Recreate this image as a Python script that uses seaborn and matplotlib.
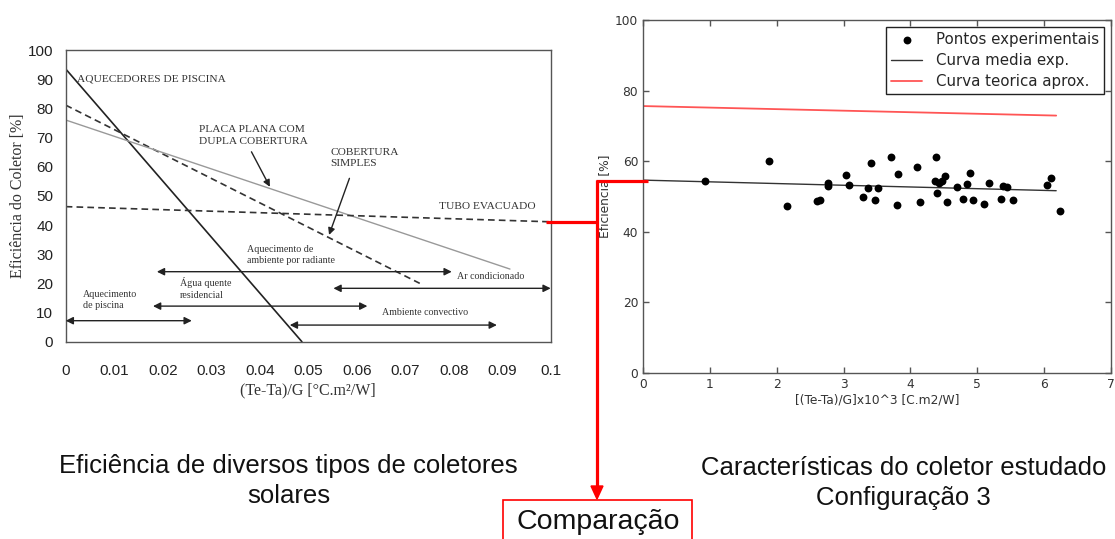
import numpy as np
import pandas as pd
import matplotlib
matplotlib.use("Agg")
import matplotlib.pyplot as plt
import seaborn as sns
from matplotlib.lines import Line2D
from matplotlib.patches import Rectangle

# ------------------------------------------------------------------
# dados - grafico da esquerda (eficiencia de diversos coletores)
# ------------------------------------------------------------------
piscina_x = [0.0, 0.0487]
piscina_y = [93.5, 0.0]
simples_x = [0.0, 0.073]
simples_y = [81.1, 20.0]
dupla_x = [0.0, 0.0916]
dupla_y = [76.0, 24.9]
tubo_x = [0.0, 0.1]
tubo_y = [46.3, 41.1]

faixa_ini = [0.0, 0.018, 0.0188, 0.0552, 0.0462]
faixa_fim = [0.026, 0.0622, 0.0796, 0.1, 0.0889]
faixa_nivel = [7.2, 12.2, 24.0, 18.3, 5.7]

esq_xticks = [0, 0.01, 0.02, 0.03, 0.04, 0.05, 0.06, 0.07, 0.08, 0.09, 0.1]
esq_xlabels = ["0", "0.01", "0.02", "0.03", "0.04", "0.05", "0.06", "0.07", "0.08", "0.09", "0.1"]
esq_yticks = [0, 10, 20, 30, 40, 50, 60, 70, 80, 90, 100]

# ------------------------------------------------------------------
# dados - grafico da direita (coletor estudado, configuracao 3)
# ------------------------------------------------------------------
exp_x = [0.93, 1.89, 2.16, 2.61, 2.65, 2.76, 2.77, 3.03, 3.08, 3.29,
         3.37, 3.41, 3.47, 3.52, 3.71, 3.81, 3.80, 4.10, 4.14, 4.38,
         4.37, 4.42, 4.47, 4.52, 4.39, 4.55, 4.69, 4.78, 4.84, 4.89,
         4.93, 5.10, 5.17, 5.36, 5.39, 5.44, 5.53, 6.05, 6.10, 6.23]
exp_y = [54.4, 60.1, 47.3, 48.8, 49.0, 53.7, 52.9, 56.1, 53.3, 49.9,
         52.5, 59.5, 48.9, 52.5, 61.1, 56.4, 47.5, 58.3, 48.3, 61.2,
         54.4, 53.7, 54.4, 55.8, 51.0, 48.5, 52.7, 49.2, 53.4, 56.7,
         49.0, 47.7, 53.9, 49.3, 52.9, 52.6, 49.0, 53.3, 55.2, 45.8]
media_x = [0.0, 6.18]
media_y = [54.6, 51.6]
teorica_x = [0.0, 6.18]
teorica_y = [75.6, 72.9]

W, H = 1115, 539


def px(x, y):
    """pixel (origem no topo) -> fracao da figura"""
    return x / W, 1 - y / H


sns.set_style("white")
plt.rcParams['font.family'] = ['Liberation Sans', 'DejaVu Sans']

fig = plt.figure(figsize=(W / 100, H / 100), dpi=100)

# ==================================================================
# I. grafico da esquerda
# ==================================================================
ax1 = fig.add_axes([65.7 / W, 1 - 341.7 / H, (550.7 - 65.7) / W, (341.7 - 50) / H])
traco = (0, (4, 2.5))
sns.lineplot(x=piscina_x, y=piscina_y, ax=ax1, color='#222222', lw=1.2)
sns.lineplot(x=simples_x, y=simples_y, ax=ax1, color='#333333', lw=1.2, linestyle=traco)
sns.lineplot(x=dupla_x, y=dupla_y, ax=ax1, color='#999999', lw=1.0)
sns.lineplot(x=tubo_x, y=tubo_y, ax=ax1, color='#333333', lw=1.2, linestyle=traco)

for x0, x1, yv in zip(faixa_ini, faixa_fim, faixa_nivel):
    ax1.annotate('', xy=(x1, yv), xytext=(x0, yv),
                 arrowprops=dict(arrowstyle='<|-|>', color='#222222', lw=1.0,
                                 mutation_scale=11, shrinkA=0, shrinkB=0))

# setas indicadoras
ax1.annotate('', xy=(0.0421, 53.1), xytext=(0.0383, 65.1),
             arrowprops=dict(arrowstyle='-|>', color='#222222', lw=1.0,
                             mutation_scale=10, shrinkA=0, shrinkB=0))
ax1.annotate('', xy=(0.0543, 36.6), xytext=(0.0585, 56.0),
             arrowprops=dict(arrowstyle='-|>', color='#222222', lw=1.0,
                             mutation_scale=10, shrinkA=0, shrinkB=0))

serif = ['Liberation Serif', 'DejaVu Serif']
cor_txt = '#333333'
fs_caps = 8.2
fs_min = 7.2
ax1.text(0.0023, 89.9, 'AQUECEDORES DE PISCINA', family=serif, fontsize=fs_caps,
         color=cor_txt, va='center', ha='left')
ax1.text(0.0275, 70.7, 'PLACA PLANA COM\nDUPLA COBERTURA', family=serif, fontsize=fs_caps,
         color=cor_txt, va='center', ha='left', linespacing=1.3)
ax1.text(0.0546, 63.1, 'COBERTURA\nSIMPLES', family=serif, fontsize=fs_caps,
         color=cor_txt, va='center', ha='left', linespacing=1.3)
ax1.text(0.077, 46.5, 'TUBO EVACUADO', family=serif, fontsize=fs_caps,
         color=cor_txt, va='center', ha='left')
ax1.text(0.0373, 29.7, 'Aquecimento de\nambiente por radiante', family=serif, fontsize=fs_min,
         color=cor_txt, va='center', ha='left', linespacing=1.35)
ax1.text(0.0236, 18.2, 'Água quente\nresidencial', family=serif, fontsize=fs_min,
         color=cor_txt, va='center', ha='left', linespacing=1.35)
ax1.text(0.0035, 14.3, 'Aquecimento\nde piscina', family=serif, fontsize=fs_min,
         color=cor_txt, va='center', ha='left', linespacing=1.35)
ax1.text(0.0807, 22.3, 'Ar condicionado', family=serif, fontsize=fs_min,
         color=cor_txt, va='center', ha='left')
ax1.text(0.0652, 9.9, 'Ambiente convectivo', family=serif, fontsize=fs_min,
         color=cor_txt, va='center', ha='left')

ax1.set_xlim(0, 0.1)
ax1.set_ylim(0, 100)
ax1.set_xticks(esq_xticks)
ax1.set_xticklabels(esq_xlabels)
ax1.set_yticks(esq_yticks)
ax1.tick_params(axis='both', direction='out', length=4, width=1, color='#555555',
                labelsize=11, labelcolor='#222222')
ax1.tick_params(axis='x', pad=12)
ax1.tick_params(axis='y', pad=5)
for s in ax1.spines.values():
    s.set_color('#555555')
    s.set_linewidth(1.0)
ax1.set_xlabel('(Te-Ta)/G [°C.m²/W]', family=serif, fontsize=11.5, color=cor_txt, labelpad=3)
ax1.set_ylabel('Eficiência do Coletor [%]', family=serif, fontsize=11.5, color=cor_txt, labelpad=1)

# ==================================================================
# II. grafico da direita
# ==================================================================
ax2 = fig.add_axes([643 / W, 1 - 372.7 / H, (1111 - 643) / W, (372.7 - 20) / H])
df_exp = pd.DataFrame({'x': exp_x, 'y': exp_y})
sns.scatterplot(data=df_exp, x='x', y='y', ax=ax2, color='black', s=32,
                linewidth=0, label='Pontos experimentais', zorder=3)
sns.lineplot(x=media_x, y=media_y, ax=ax2, color='#333333', lw=1.0, label='Curva media exp.')
sns.lineplot(x=teorica_x, y=teorica_y, ax=ax2, color='#ff5555', lw=1.3, label='Curva teorica aprox.')

ax2.set_xlim(0, 7)
ax2.set_ylim(0, 100)
ax2.set_xticks(range(0, 8))
ax2.set_yticks(range(0, 101, 20))
ax2.tick_params(axis='both', direction='in', length=4, width=1, color='#555555',
                labelsize=8.8, labelcolor='#333333', top=True, right=True, bottom=True, left=True)
for s in ax2.spines.values():
    s.set_color('#555555')
    s.set_linewidth(1.0)
dj = ['DejaVu Sans']
ax2.set_xlabel('[(Te-Ta)/G]x10^3 [C.m2/W]', family=dj, fontsize=8.8, color='#333333', labelpad=2)
ax2.set_ylabel('Eficiencia [%]', family=dj, fontsize=8.8, color='#333333', labelpad=3)
for lb in ax2.get_xticklabels() + ax2.get_yticklabels():
    lb.set_family(dj)
leg = ax2.legend(loc='upper right', fancybox=False, framealpha=1, edgecolor='#222222',
                 prop={'family': 'DejaVu Sans', 'size': 10.8}, handlelength=2.1,
                 borderaxespad=0.45, labelspacing=0.4, borderpad=0.35, handletextpad=0.9)
leg.get_frame().set_linewidth(1.0)

# ==================================================================
# III. ligacoes em vermelho e textos
# ==================================================================
vermelho = '#ff0000'
fig.add_artist(Line2D([px(546, 0)[0], px(598, 0)[0]], [px(0, 221.5)[1]] * 2,
                      color=vermelho, lw=2.3, solid_capstyle='butt'))
fig.add_artist(Line2D([px(596, 0)[0], px(648, 0)[0]], [px(0, 181)[1]] * 2,
                      color=vermelho, lw=2.3, solid_capstyle='butt'))
fig.add_artist(Line2D([px(597, 0)[0]] * 2, [px(0, 180)[1], px(0, 490)[1]],
                      color=vermelho, lw=2.3, solid_capstyle='butt'))
fig.patches.append(plt.Polygon([px(591, 486), px(603, 486), px(597, 499)], closed=True,
                               color=vermelho, transform=fig.transFigure, figure=fig))

x0, y0 = px(503, 545)
x1, y1 = px(692, 500)
fig.add_artist(Rectangle((x0, y0), x1 - x0, y1 - y0, transform=fig.transFigure,
                         fill=False, edgecolor=vermelho, lw=1.2))

fs = 18.5
fig.text(*px(288.5, 481), 'Eficiência de diversos tipos de coletores\nsolares',
         ha='center', va='center', fontsize=fs, color='#111111', linespacing=1.35)
fig.text(*px(903.5, 483), 'Características do coletor estudado\nConfiguração 3',
         ha='center', va='center', fontsize=fs, color='#111111', linespacing=1.35)
fig.text(*px(598.5, 522), 'Comparação', ha='center', va='center', fontsize=20.5, color='#111111')

fig.savefig('out.png', dpi=100)
